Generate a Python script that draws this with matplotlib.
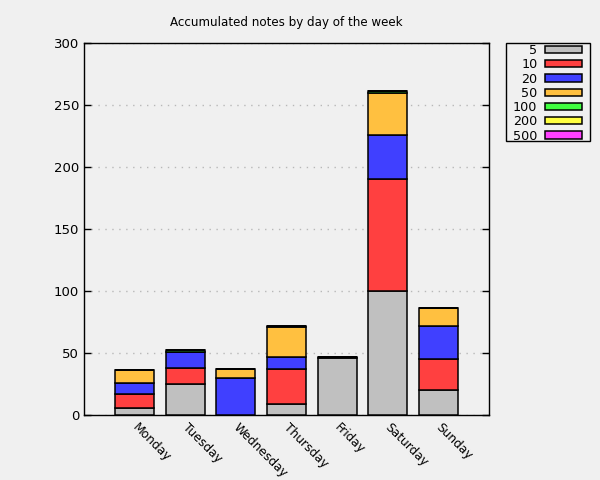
import matplotlib
matplotlib.use("Agg")
import matplotlib.pyplot as plt
import matplotlib.transforms as mtransforms
from matplotlib.patches import Rectangle
import numpy as np

days = ["Monday", "Tuesday", "Wednesday", "Thursday", "Friday", "Saturday", "Sunday"]
notes = ["5", "10", "20", "50", "100", "200", "500"]
colors = ["#c0c0c0", "#ff4040", "#4040ff", "#ffc040", "#40ff40", "#ffff40", "#ff40ff"]

v5 = [6, 25, 0, 9, 46, 100, 20]
v10 = [11, 13, 0, 28, 1, 90, 25]
v20 = [9, 13, 30, 10, 0, 36, 27]
v50 = [10, 0, 7, 24, 0, 34, 14]
v100 = [0, 1.5, 0, 1, 0, 1.5, 0]
v200 = [0, 0, 0, 0, 0, 0, 0]
v500 = [0, 0, 0, 0, 0, 0, 0]
series = [v5, v10, v20, v50, v100, v200, v500]

bg = "#f0f0f0"
W, H = 600, 480
fig = plt.figure(figsize=(6, 4.8), dpi=100, facecolor=bg)
ax = fig.add_axes([0.14, 0.1354, 0.675, 0.775], facecolor=bg)

x = np.arange(len(days))
bottom = np.zeros(len(days))
handles = []
for lab, col, vals in zip(notes, colors, series):
    vals = np.array(vals, dtype=float)
    b = ax.bar(x, vals, width=0.77, bottom=bottom, color=col, edgecolor="black",
               linewidth=1.1, label=lab, zorder=3)
    handles.append(b)
    bottom += vals

ax.set_xlim(-1, 7)
ax.set_ylim(0, 300)
ax.set_yticks(np.arange(0, 301, 50))
ax.set_xticks(x)
ax.set_xticklabels(days, rotation=-45, ha="left", va="top", rotation_mode="anchor", fontsize=8.8)
ax.tick_params(axis="x", length=0, pad=4)
offset = mtransforms.ScaledTranslation(4 / 100, 0, fig.dpi_scale_trans)
for lbl in ax.get_xticklabels():
    lbl.set_transform(lbl.get_transform() + offset)
ax.tick_params(axis="y", direction="in", right=True, length=5, labelsize=9.5, width=1)
ax.yaxis.grid(True, linestyle=(0, (1, 4)), color="#b8b8b8", linewidth=1, zorder=0)
for s in ax.spines.values():
    s.set_linewidth(1)
    s.set_color("black")

fig.text(0.477, 0.953, "Accumulated notes by day of the week", ha="center", va="center", fontsize=8.6)

# legend frame (gnuplot style: wider horizontal padding)
fig.patches.append(Rectangle((506 / W, 1 - 141 / H), 84 / W, 98 / H,
                             transform=fig.transFigure, facecolor=bg,
                             edgecolor="black", linewidth=1, zorder=1))
leg = fig.legend(handles=handles, labels=notes, loc="upper left",
                 bbox_to_anchor=(513 / W, 1 - 44 / H), bbox_transform=fig.transFigure,
                 markerfirst=False, frameon=False, fontsize=9.2, handlelength=2.9,
                 handleheight=0.5, labelspacing=0.1, borderpad=0, handletextpad=0.62,
                 borderaxespad=0)
leg.set_zorder(2)

fig.savefig("out.png", dpi=100, facecolor=bg)
